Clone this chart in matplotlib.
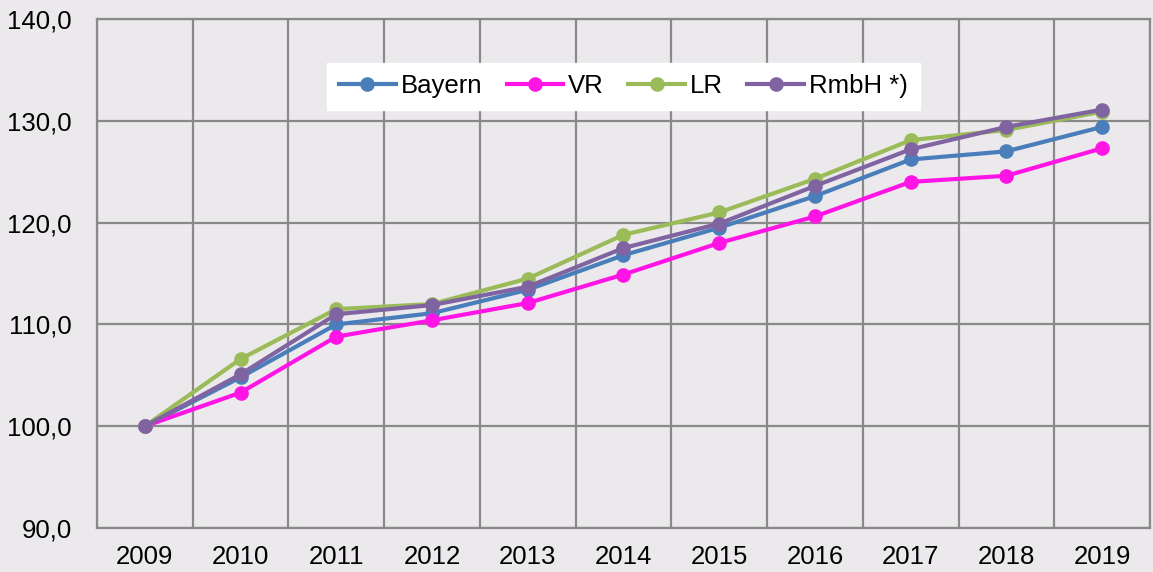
import numpy as np
import matplotlib.pyplot as plt
from matplotlib.ticker import FuncFormatter, MultipleLocator

plt.rcParams['font.family'] = ['Liberation Sans', 'DejaVu Sans']

years = ['2009', '2010', '2011', '2012', '2013', '2014', '2015', '2016', '2017', '2018', '2019']
bayern = [100.0, 104.8, 110.0, 111.1, 113.4, 116.8, 119.5, 122.6, 126.2, 127.0, 129.4]
vr = [100.0, 103.3, 108.8, 110.4, 112.1, 114.9, 118.0, 120.6, 124.0, 124.6, 127.3]
lr = [100.0, 106.6, 111.5, 112.0, 114.5, 118.8, 121.0, 124.3, 128.1, 129.1, 130.9]
rmbh = [100.0, 105.1, 111.0, 111.9, 113.7, 117.5, 119.9, 123.6, 127.2, 129.4, 131.1]

series = [
    ('Bayern', bayern, '#4A7EBB'),
    ('VR', vr, '#FF14E6'),
    ('LR', lr, '#9BBB59'),
    ('RmbH *)', rmbh, '#8064A2'),
]

bg = '#EBE9EC'
grid_col = '#898989'

fig = plt.figure(figsize=(11.53, 5.72), dpi=100, facecolor=bg)
ax = fig.add_axes([0.0841, 0.0769, 0.9133, 0.8899], facecolor=bg)

x = np.arange(len(years))
for name, vals, col in series:
    ax.plot(x, vals, color=col, linewidth=3.0, marker='o', markersize=9.5, label=name, zorder=3)

ax.set_xlim(-0.5, len(years) - 0.5)
ax.set_ylim(90, 140)
ax.set_xticks(x)
ax.set_xticklabels(years)
ax.xaxis.set_minor_locator(MultipleLocator(1, offset=0.5))
ax.yaxis.set_major_locator(MultipleLocator(10))
ax.yaxis.set_major_formatter(FuncFormatter(lambda v, p: f'{v:.1f}'.replace('.', ',')))

ax.grid(True, which='minor', axis='x', color=grid_col, linewidth=1.6)
ax.grid(True, which='major', axis='y', color=grid_col, linewidth=1.6)
ax.set_axisbelow(True)
ax.tick_params(which='both', length=0, labelsize=18.5, colors='black')
ax.tick_params(axis='x', pad=12)
ax.tick_params(axis='y', pad=18)
for s in ax.spines.values():
    s.set_color(grid_col)
    s.set_linewidth(1.6)

leg = ax.legend(loc='upper center', bbox_to_anchor=(0.5, 0.914), borderaxespad=0, ncol=4,
                frameon=True, fancybox=False, framealpha=1, edgecolor='white', fontsize=18.5,
                handlelength=2.2, handletextpad=0.2, columnspacing=0.95, borderpad=0.45)
leg.get_frame().set_facecolor('white')

fig.savefig('out.png', dpi=100, facecolor=bg)
